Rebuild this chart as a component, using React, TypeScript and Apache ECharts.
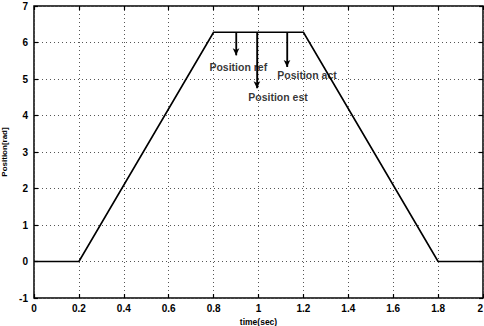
import React, { useEffect, useRef } from "react";
import * as echarts from "echarts";

// Trapezoidal position profile (time in sec, position in rad)
const timeSec = [0, 0.2, 0.8, 1.2, 1.8, 2.0];
const positionRad = [0, 0, 6.28, 6.28, 0, 0];

// Annotation arrows: x position, tip value, and their labels
const arrowX = [0.9, 0.993, 1.127];
const arrowTip = [5.65, 4.75, 5.33];
const labelNames = ["Position ref", "Position est", "Position act"];
const labelX = [0.91, 1.087, 1.216];
const labelY = [5.33, 4.5, 5.1];

const xTicks = [0, 0.2, 0.4, 0.6, 0.8, 1, 1.2, 1.4, 1.6, 1.8, 2];

export default function App() {
  const ref = useRef<HTMLDivElement>(null);

  useEffect(() => {
    const chart = echarts.init(ref.current!, null, { renderer: "svg" });
    const font = { fontFamily: "Liberation Sans, Arial, sans-serif", fontWeight: "bold" as const, color: "#000" };
    const gridLine = { show: true, lineStyle: { color: "#555", type: [1, 3] as any, width: 1 } };
    const tick = { show: true, inside: true, length: 4, lineStyle: { color: "#000", width: 1.2 } };

    const lineData = timeSec.map((t, i) => [t, positionRad[i]]);

    const arrowSeries = arrowX.map((x, i) => ({
      type: "line" as const,
      data: [[x, 6.28], [x, arrowTip[i]]],
      symbol: "none",
      lineStyle: { color: "#000", width: 1.3 },
      markLine: {
        silent: true,
        symbol: ["none", "arrow"],
        symbolSize: [5, 7],
        label: { show: false },
        lineStyle: { color: "#000", width: 1.3, type: "solid" as const },
        data: [[{ coord: [x, 6.28] }, { coord: [x, arrowTip[i]] }]],
      },
    }));

    const labelSeries = {
      type: "scatter" as const,
      symbolSize: 0,
      data: labelNames.map((n, i) => ({ value: [labelX[i], labelY[i]], name: n })),
      label: {
        show: true,
        position: "inside" as const,
        formatter: (p: any) => p.name,
        fontSize: 10.5,
        ...font,
      },
    };

    chart.setOption({
      animation: false,
      backgroundColor: "#fff",
      grid: {
        left: 34,
        right: 1,
        top: 6,
        bottom: 28,
        show: true,
        borderColor: "#000",
        borderWidth: 1.5,
        outerBoundsMode: "none",
        containLabel: false,
      },
      xAxis: [
        {
          type: "value",
          min: 0,
          max: 2,
          interval: 0.2,
          name: "time(sec)",
          nameLocation: "middle",
          nameGap: 19,
          nameTextStyle: { fontSize: 8.5, ...font },
          axisLine: { show: false, onZero: false },
          axisTick: tick,
          axisLabel: {
            fontSize: 10,
            margin: 5,
            alignMaxLabel: "right",
            ...font,
            formatter: (v: number) => {
              const t = xTicks.find((k) => Math.abs(k - v) < 1e-6);
              return t === undefined ? "" : String(Number(t.toFixed(1)));
            },
          },
          splitLine: gridLine,
        },
        {
          type: "value",
          position: "top",
          min: 0,
          max: 2,
          interval: 0.2,
          axisLine: { show: false, onZero: false },
          axisTick: tick,
          axisLabel: { show: false },
          splitLine: { show: false },
        },
      ],
      yAxis: [
        {
          type: "value",
          min: -1,
          max: 7,
          interval: 1,
          name: "Position[rad]",
          nameLocation: "middle",
          nameGap: 20,
          nameTextStyle: { fontSize: 8, ...font },
          axisLine: { show: false, onZero: false },
          axisTick: tick,
          axisLabel: { fontSize: 10, margin: 6, ...font },
          splitLine: gridLine,
        },
        {
          type: "value",
          position: "right",
          min: -1,
          max: 7,
          interval: 1,
          axisLine: { show: false, onZero: false },
          axisTick: tick,
          axisLabel: { show: false },
          splitLine: { show: false },
        },
      ],
      series: [
        {
          type: "line",
          data: lineData,
          symbol: "none",
          lineStyle: { color: "#000", width: 1.6 },
        },
        ...arrowSeries,
        labelSeries,
      ],
    });
    return () => chart.dispose();
  }, []);

  return <div ref={ref} style={{ width: 484, height: 326, position: "absolute", left: 0, top: 0 }} />;
}
